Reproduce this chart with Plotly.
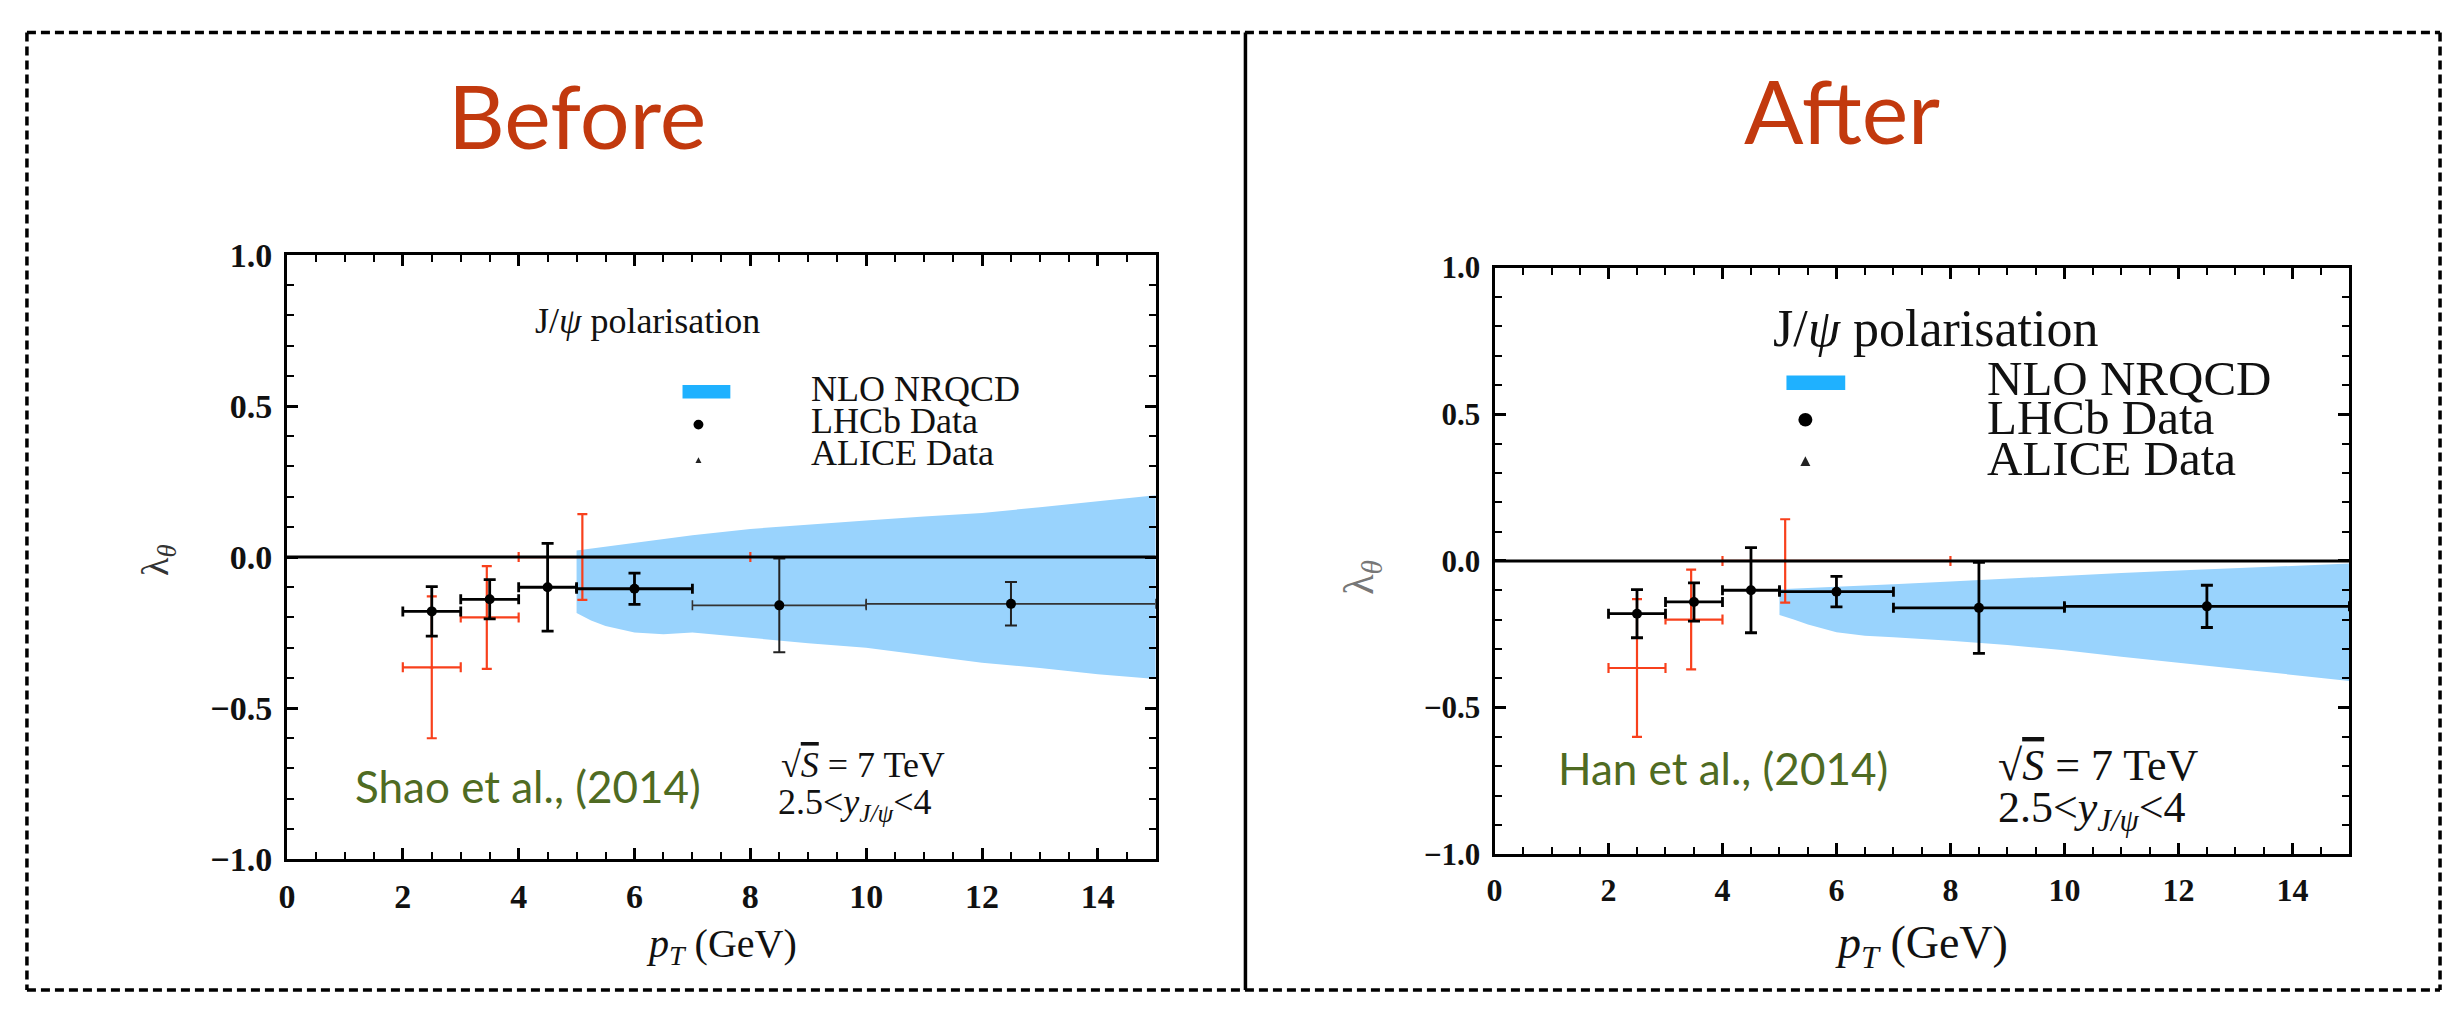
import plotly.graph_objects as go

W, H = 2451, 1012

# ---------------- data ----------------
lhcb_pt = [2.5, 3.5, 4.5, 6.0, 8.5, 12.5]
lhcb_lo = [2.0, 3.0, 4.0, 5.0, 7.0, 10.0]
lhcb_hi = [3.0, 4.0, 5.0, 7.0, 10.0, 15.0]
lhcb_lam = [-0.18, -0.14, -0.10, -0.105, -0.16, -0.155]
lhcb_err = [0.082, 0.065, 0.145, 0.052, 0.155, 0.072]

alice_pt = [2.5, 3.45, 5.1]
alice_lo = [2.0, 3.0, 4.0]
alice_hi = [3.0, 4.0, 8.0]
alice_lam = [-0.365, -0.20, 0.0]
alice_err = [0.235, 0.17, 0.142]

band_pt = [5.0, 5.25, 5.5, 6.0, 6.5, 7.0, 8.0, 9.0, 10.0, 11.0, 12.0, 13.0, 14.0, 15.0]
before_upper = [0.022, 0.028, 0.034, 0.048, 0.060, 0.072, 0.093, 0.108, 0.121, 0.134, 0.146, 0.165, 0.185, 0.205]
before_lower = [-0.185, -0.21, -0.228, -0.25, -0.256, -0.25, -0.268, -0.285, -0.300, -0.325, -0.350, -0.367, -0.388, -0.404]
after_upper = [-0.097, -0.095, -0.093, -0.088, -0.084, -0.080, -0.070, -0.060, -0.050, -0.041, -0.033, -0.025, -0.017, -0.009]
after_lower = [-0.184, -0.20, -0.217, -0.243, -0.255, -0.260, -0.272, -0.287, -0.305, -0.327, -0.347, -0.366, -0.388, -0.409]

x_ticks = [0, 2, 4, 6, 8, 10, 12, 14]
y_ticks = [-1.0, -0.5, 0.0, 0.5, 1.0]

# ---------------- styles ----------------
BAND = "#99d3fd"
KEY_BLUE = "#1fb1ff"
RED = "#f8401c"
GREEN = "#4f6b22"
TITLE_RED = "#c2390e"
SERIF = "Liberation Serif"
SANS = "Lato"


def px(x):
    return x / W


def py(y):
    return 1 - y / H


def sub(lst, idx):
    return [lst[i] for i in idx]


fig = go.Figure()


def add_panel(xr, yr, upper, lower, thin_tail):
    # theory band
    fig.add_trace(go.Scatter(
        x=band_pt + band_pt[::-1], y=upper + lower[::-1],
        fill="toself", fillcolor=BAND, line=dict(width=0), mode="lines",
        hoverinfo="skip", showlegend=False, xaxis=xr, yaxis=yr))
    # ALICE
    fig.add_trace(go.Scatter(
        x=alice_pt, y=alice_lam, mode="markers",
        marker=dict(symbol="triangle-up", size=4, color=RED),
        error_x=dict(type="data", symmetric=False,
                     array=[h - p for h, p in zip(alice_hi, alice_pt)],
                     arrayminus=[p - l for p, l in zip(alice_pt, alice_lo)],
                     color=RED, thickness=2.2, width=5),
        error_y=dict(type="data", array=alice_err, color=RED, thickness=2.2, width=5),
        showlegend=False, xaxis=xr, yaxis=yr))
    # LHCb
    groups = [list(range(0, 4)), list(range(4, 6))] if thin_tail else [list(range(6))]
    for gi, idx in enumerate(groups):
        thin = thin_tail and gi == 1
        pts = sub(lhcb_pt, idx)
        fig.add_trace(go.Scatter(
            x=pts, y=sub(lhcb_lam, idx), mode="markers",
            marker=dict(symbol="circle", size=10, color="black"),
            error_x=dict(type="data", symmetric=False,
                         array=[h - p for h, p in zip(sub(lhcb_hi, idx), pts)],
                         arrayminus=[p - l for p, l in zip(pts, sub(lhcb_lo, idx))],
                         color="#333333" if thin else "black",
                         thickness=1.6 if thin else 2.8, width=5),
            error_y=dict(type="data", array=sub(lhcb_err, idx),
                         color="#222222" if thin else "black",
                         thickness=2.0 if thin else 2.8, width=6),
            showlegend=False, xaxis=xr, yaxis=yr))


add_panel("x", "y", before_upper, before_lower, True)
add_panel("x2", "y2", after_upper, after_lower, False)


def xaxis(domain, anchor, fsize):
    return dict(domain=domain, anchor=anchor, range=[0, 15], tickvals=x_ticks,
                ticks="inside", ticklen=11, tickwidth=2.5, tickcolor="black",
                showline=True, linewidth=3, linecolor="black", mirror="allticks",
                showgrid=False, zeroline=False, ticklabelstandoff=5,
                tickfont=dict(family=SERIF, size=fsize, color="#111111", weight="bold"),
                minor=dict(dtick=0.5, tick0=0, ticks="inside", ticklen=7, tickwidth=2,
                           tickcolor="black", showgrid=False))


def yaxis(domain, anchor, fsize):
    return dict(domain=domain, anchor=anchor, range=[-1, 1], tickvals=y_ticks,
                tickformat=".1f",
                ticks="inside", ticklen=11, tickwidth=2.5, tickcolor="black",
                showline=True, linewidth=3, linecolor="black", mirror="allticks",
                showgrid=False, zeroline=False, ticklabelstandoff=5,
                tickfont=dict(family=SERIF, size=fsize, color="#111111", weight="bold"),
                minor=dict(dtick=0.1, tick0=0, ticks="inside", ticklen=7, tickwidth=2,
                           tickcolor="black", showgrid=False))


fig.update_layout(
    width=W, height=H, margin=dict(l=0, r=0, t=0, b=0),
    paper_bgcolor="white", plot_bgcolor="white", showlegend=False,
    xaxis=xaxis([px(279), px(1151)], "y", 34),
    yaxis=yaxis([py(873), py(246)], "x", 34),
    xaxis2=xaxis([px(1491), px(2349)], "y2", 32),
    yaxis2=yaxis([py(868), py(259)], "x2", 31),
)

shapes = []
# zero lines drawn over the data
for xr, yr in (("x", "y"), ("x2", "y2")):
    shapes.append(dict(type="line", xref=f"{xr} domain", yref=yr, x0=0, x1=1, y0=0, y1=0,
                       line=dict(color="black", width=3), layer="above"))

# outer dashed frame and solid divider
dash = "9px,5px"
for (x0, y0, x1, y1) in [(18, 15, 2440, 15), (18, 1009, 2440, 1009),
                         (18, 15, 18, 1009), (2440, 15, 2440, 1009)]:
    shapes.append(dict(type="line", xref="paper", yref="paper",
                       x0=px(x0), y0=py(y0), x1=px(x1), y1=py(y1),
                       line=dict(color="black", width=3.5, dash=dash)))
shapes.append(dict(type="line", xref="paper", yref="paper",
                   x0=px(1241), y0=py(15), x1=px(1241), y1=py(1009),
                   line=dict(color="black", width=3.5)))

# legend keys
for (rx0, rx1, ry0, ry1, cx, cy, cr, tx, ty, ts) in [
        (676, 724, 381, 395, 692, 422, 5, 692, 459, 3),
        (1784, 1843, 371, 386, 1803, 417, 7, 1803, 460, 5)]:
    shapes.append(dict(type="rect", xref="paper", yref="paper",
                       x0=px(rx0), x1=px(rx1), y0=py(ry1), y1=py(ry0),
                       fillcolor=KEY_BLUE, line=dict(width=0)))
    shapes.append(dict(type="circle", xref="paper", yref="paper",
                       x0=px(cx - cr), x1=px(cx + cr), y0=py(cy + cr), y1=py(cy - cr),
                       fillcolor="black", line=dict(width=0)))
    path = (f"M {px(tx - ts)},{py(ty + ts)} L {px(tx + ts)},{py(ty + ts)} "
            f"L {px(tx)},{py(ty - ts)} Z")
    shapes.append(dict(type="path", xref="paper", yref="paper", path=path,
                       fillcolor="#222222", line=dict(width=0)))

fig.update_layout(shapes=shapes)

ann = []


def text(t, x, y, size, family=SERIF, color="#111111", xanchor="left", angle=0):
    ann.append(dict(text=t, x=px(x), y=py(y), xref="paper", yref="paper",
                    xanchor=xanchor, yanchor="middle", showarrow=False, textangle=angle,
                    font=dict(family=family, size=size, color=color)))


SQRT_S = "√<span style='text-decoration:overline'><i>S</i></span> = 7 TeV"
RAPIDITY = "2.5&lt;<i>y</i><sub><i>J/ψ</i></sub>&lt;4"

# titles
text("Before", 570, 101, 88, SANS, TITLE_RED, "center")
text("After", 1840, 95, 88, SANS, TITLE_RED, "center")

# left panel texts
text("J/<i>ψ</i> polarisation", 526, 315, 36)
text("NLO NRQCD", 803, 385, 36)
text("LHCb Data", 803, 418, 36)
text("ALICE Data", 803, 452, 36)
text("Shao et al., (2014)", 345, 797, 44, SANS, GREEN)
text(SQRT_S, 773, 775, 36)
text(RAPIDITY, 770, 816, 36)
text("λ<sub><i>θ</i></sub>", 150, 562, 38, SERIF, "#333333", "center", -90)
text("<i>p</i><sub><i>T</i></sub> (GeV)", 715, 963, 40, SERIF, "#111111", "center")

# right panel texts
text("J/<i>ψ</i> polarisation", 1768, 322, 52)
text("NLO NRQCD", 1983, 374, 49)
text("LHCb Data", 1983, 415, 49)
text("ALICE Data", 1983, 457, 49)
text("Han et al., (2014)", 1553, 778, 44, SANS, GREEN)
text(SQRT_S, 1994, 776, 44)
text(RAPIDITY, 1994, 823, 44)
text("λ<sub><i>θ</i></sub>", 1358, 581, 42, SERIF, "#777777", "center", -90)
text("<i>p</i><sub><i>T</i></sub> (GeV)", 1920, 963, 46, SERIF, "#111111", "center")

fig.update_layout(annotations=ann)

fig.write_html("out.html")
